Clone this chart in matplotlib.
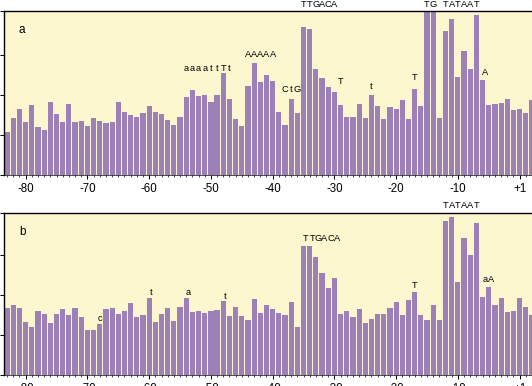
import matplotlib
matplotlib.use("Agg")
import matplotlib.pyplot as plt

plt.rcParams['font.family'] = ['Liberation Sans', 'DejaVu Sans']

# promoter positions (no position 0)
positions = list(range(-83, 0)) + [1, 2, 3]

heights_a = [1.07, 1.43, 1.65, 1.33, 1.75, 1.20, 1.13, 1.83, 1.53, 1.33,
             1.78, 1.33, 1.35, 1.23, 1.43, 1.35, 1.30, 1.33, 1.83, 1.58,
             1.50, 1.45, 1.55, 1.73, 1.58, 1.53, 1.38, 1.25, 1.45, 1.95,
             2.13, 1.98, 2.00, 1.83, 2.00, 2.55, 1.90, 1.40, 1.23, 2.23,
             2.78, 2.33, 2.48, 2.35, 1.58, 1.25, 1.90, 1.55, 3.70, 3.65,
             2.65, 2.43, 2.20, 2.08, 1.75, 1.45, 1.45, 1.78, 1.43, 2.00,
             1.73, 1.40, 1.70, 1.65, 1.88, 1.40, 2.15, 1.73, 4.60, 4.50,
             1.43, 3.58, 3.88, 2.45, 3.10, 2.65, 3.98, 2.38, 1.75, 1.78,
             1.80, 1.90, 1.63, 1.65, 1.55, 1.88]

heights_b = [1.68, 1.75, 1.68, 1.33, 1.20, 1.60, 1.53, 1.30, 1.53, 1.65,
             1.50, 1.68, 1.45, 1.13, 1.13, 1.28, 1.65, 1.68, 1.53, 1.60,
             1.80, 1.45, 1.50, 1.93, 1.33, 1.53, 1.68, 1.35, 1.70, 1.93,
             1.58, 1.60, 1.55, 1.60, 1.63, 1.85, 1.48, 1.70, 1.48, 1.38,
             1.90, 1.55, 1.75, 1.65, 1.55, 1.50, 1.83, 1.20, 3.23, 3.23,
             2.95, 2.55, 2.18, 2.43, 1.53, 1.60, 1.45, 1.65, 1.30, 1.40,
             1.53, 1.53, 1.68, 1.83, 1.50, 1.88, 2.08, 1.50, 1.38, 1.75,
             1.38, 3.85, 3.95, 2.33, 3.43, 3.00, 3.80, 1.95, 2.20, 1.75,
             1.93, 1.58, 1.60, 1.93, 1.70, 1.50]

tick_labels = ['-80', '-70', '-60', '-50', '-40', '-30', '-20', '-10', '+1']
tick_positions = [-80, -70, -60, -50, -40, -30, -20, -10, 1]

# consensus letters: (first position coordinate, text, baseline height)
letters_a = [(-54, 'aaaattTt', 2.59), (-44, 'AAAAA', 2.93), (-38, 'CtG', 2.06),
             (-29, 'T', 2.27), (-24, 't', 2.15), (-17, 'T', 2.37), (-5.6, 'A', 2.49),
             (-35, 'TTGACA', 4.19), (-15, 'TG', 4.19), (-12, 'TATAAT', 4.19)]
letters_b = [(-68, 'c', 1.36), (-59.7, 't', 2.0), (-53.7, 'a', 2.0), (-47.7, 't', 1.91),
             (-34.6, 'TTGACA', 3.36), (-17, 'T', 2.17), (-5.6, 'aA', 2.33),
             (-12, 'TATAAT', 4.19)]


def xcoord(p):
    return p if p < 0 else p - 1


BAR = '#9E80B8'
BG = '#FCF7CE'

fig = plt.figure(figsize=(5.32, 3.86), dpi=100)
W, H = 532.0, 386.0
ax_a = fig.add_axes([4 / W, 1 - 175 / H, 528 / W, 164.5 / H])
ax_b = fig.add_axes([4 / W, 1 - 375 / H, 528 / W, 162.3 / H])

xs = [xcoord(p) for p in positions]
for ax, hts, letters, ytop, lab in [(ax_a, heights_a, letters_a, 4.1, 'a'),
                                    (ax_b, heights_b, letters_b, 4.06, 'b')]:
    ax.set_facecolor(BG)
    ax.bar(xs, hts, width=0.84, color=BAR, edgecolor='none')
    ax.set_xlim(-83.51, 1.83)
    ax.set_ylim(0, ytop)
    ax.set_yticks([0, 1, 2, 3, ytop])
    ax.set_yticklabels([])
    ax.set_xticks([xcoord(p) for p in tick_positions])
    ax.set_xticklabels(tick_labels, fontsize=8.3)
    ax.set_xticks(xs, minor=True)
    ax.tick_params(axis='x', which='major', direction='out', length=3, width=0.7, pad=2.5)
    ax.tick_params(axis='x', which='minor', direction='out', length=1.2, width=0.5)
    ax.tick_params(axis='y', direction='out', length=3, width=0.7)
    ax.spines['right'].set_visible(False)
    for s in ['left', 'top']:
        ax.spines[s].set_linewidth(1.0)
    ax.spines['bottom'].set_linewidth(0.5)
    ax.text(0.028, 0.865, lab, transform=ax.transAxes, fontsize=8.5, va='baseline')
    for x0, txt, y in letters:
        for k, ch in enumerate(txt):
            ax.text(x0 + k, y, ch, ha='center', va='baseline', fontsize=6.7,
                    clip_on=False)

fig.savefig('out.png', dpi=100)
